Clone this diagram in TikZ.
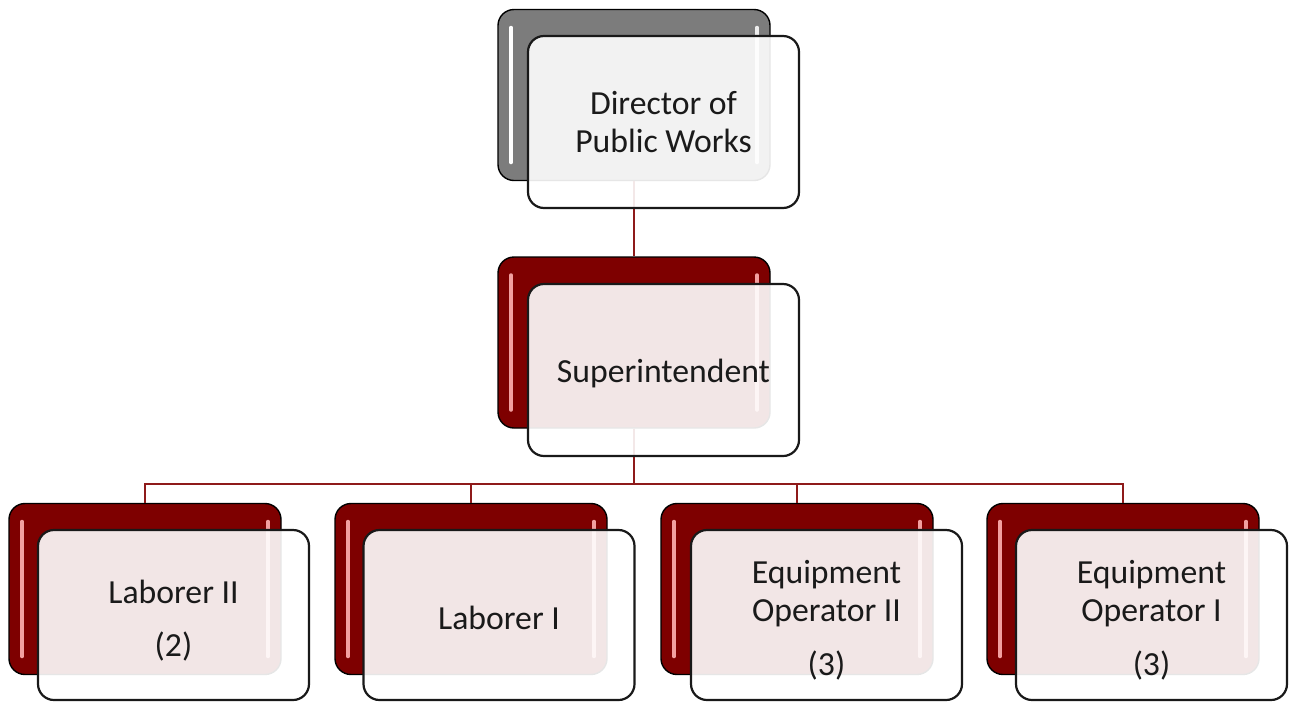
\documentclass[tikz,border=0pt]{standalone}
\usepackage{fontspec}
\setmainfont{Carlito}
\definecolor{bred}{HTML}{7E0000}
\definecolor{bgray}{HTML}{7C7C7C}
\definecolor{lred}{HTML}{8E1A1A}
\definecolor{hlred}{HTML}{F2A0A0}
\definecolor{txt}{HTML}{1A1A1A}
\begin{document}
\begin{tikzpicture}[x=1pt,y=-1pt,
  backbase/.style={draw=black, line width=1.4pt, rounded corners=16pt,
    minimum width=272pt, minimum height=171pt, inner sep=0pt},
  redback/.style={backbase, fill=bred,
    path picture={
      \draw[hlred, line width=3.5pt, line cap=round]
        ([xshift=13pt,yshift=-18pt]path picture bounding box.north west) --
        ([xshift=13pt,yshift=18pt]path picture bounding box.south west);
      \draw[hlred, line width=3.5pt, line cap=round]
        ([xshift=-13pt,yshift=-18pt]path picture bounding box.north east) --
        ([xshift=-13pt,yshift=18pt]path picture bounding box.south east);}},
  grayback/.style={backbase, fill=bgray,
    path picture={
      \draw[white, line width=3.5pt, line cap=round]
        ([xshift=13pt,yshift=-18pt]path picture bounding box.north west) --
        ([xshift=13pt,yshift=18pt]path picture bounding box.south west);
      \draw[white!85!gray, line width=3.5pt, line cap=round]
        ([xshift=-13pt,yshift=-18pt]path picture bounding box.north east) --
        ([xshift=-13pt,yshift=18pt]path picture bounding box.south east);}},
  frontbox/.style={draw=black!90, line width=2.2pt, rounded corners=16pt,
    minimum width=271pt, minimum height=170pt, inner sep=0pt,
    fill=white, fill opacity=0.9, text opacity=1, text=txt, align=center,
    font=\fontsize{33.7}{38}\selectfont},
  conn/.style={draw=lred, line width=2.2pt}]
\useasboundingbox (0,0) rectangle (1291,702);
% back boxes
\node[grayback] (bk0) at (634,95) {};
\node[redback] (bk1) at (634,342.5) {};
\node[redback] (bk2) at (145,589) {};
\node[redback] (bk3) at (471,589) {};
\node[redback] (bk4) at (797,589) {};
\node[redback] (bk5) at (1123,589) {};
% connectors
\draw[conn] (bk0.south) -- (bk1.north);
\draw[conn] (bk1.south) -- ++(0,55) coordinate (bus);
\draw[conn] (bus) -| (bk2.north);
\draw[conn] (bus) -| (bk3.north);
\draw[conn] (bus) -| (bk4.north);
\draw[conn] (bus) -| (bk5.north);
% front boxes
\node[frontbox, minimum height=172pt] (f0) at (663.5,122) {Director of\\Public Works};
\node[frontbox, minimum height=172pt] (f1) at (663.5,370) {\rule{0pt}{30pt}Superintendent};
\node[frontbox] (f2) at (173.5,615) {\rule{0pt}{34pt}Laborer II\\[15pt](2)};
\node[frontbox] (f3) at (499,615) {\rule{0pt}{30pt}Laborer I};
\node[frontbox] (f4) at (826.5,615) {\rule{0pt}{34pt}Equipment\\Operator II\\[16pt](3)};
\node[frontbox] (f5) at (1151.5,615) {\rule{0pt}{34pt}Equipment\\Operator I\\[16pt](3)};
\end{tikzpicture}
\end{document}
